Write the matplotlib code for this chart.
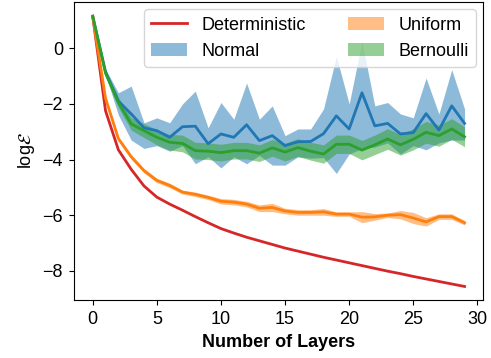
import numpy as np
import matplotlib
matplotlib.use("Agg")
import matplotlib.pyplot as plt

plt.rcParams["font.family"] = ["Liberation Sans", "DejaVu Sans"]
plt.rcParams["mathtext.fontset"] = "stixsans"

layers = list(range(30))

deterministic = [1.15, -2.25, -3.65, -4.35, -4.95, -5.35, -5.6, -5.82, -6.05, -6.27,
                 -6.48, -6.64, -6.79, -6.92, -7.05, -7.18, -7.29, -7.4, -7.51, -7.61,
                 -7.71, -7.81, -7.91, -8.01, -8.1, -8.2, -8.29, -8.38, -8.47, -8.56]

uniform_mean = [1.15, -1.8, -3.25, -3.9, -4.4, -4.75, -4.93, -5.17, -5.25, -5.36,
                -5.5, -5.53, -5.6, -5.75, -5.72, -5.85, -5.9, -5.9, -5.88, -5.96,
                -5.96, -6.07, -6.06, -6.0, -5.98, -6.1, -6.24, -6.05, -6.05, -6.27]
uniform_err = [0.02, 0.08, 0.08, 0.08, 0.08, 0.08, 0.08, 0.07, 0.08, 0.08,
               0.1, 0.1, 0.1, 0.12, 0.15, 0.1, 0.1, 0.1, 0.12, 0.08,
               0.08, 0.2, 0.12, 0.08, 0.15, 0.2, 0.15, 0.1, 0.1, 0.08]

normal_mean = [1.15, -0.85, -1.9, -2.36, -2.86, -2.96, -3.2, -2.82, -2.8, -3.43,
               -3.08, -3.2, -2.75, -3.32, -3.14, -3.5, -3.36, -3.35, -3.07, -2.43,
               -2.9, -1.6, -2.79, -2.7, -3.08, -3.03, -2.35, -2.94, -2.07, -2.7]
normal_hi = [1.15, -0.75, -1.6, -1.36, -2.68, -2.5, -2.68, -2.0, -1.54, -2.86,
             -1.95, -2.55, -1.25, -2.55, -2.07, -3.14, -2.9, -2.9, -2.18, -0.29,
             -2.0, 0.25, -2.07, -1.95, -2.36, -2.5, -1.07, -2.36, -0.77, -2.18]
normal_lo = [1.15, -0.95, -2.4, -3.3, -3.6, -3.5, -3.7, -3.5, -4.15, -3.9,
             -4.3, -3.9, -4.15, -3.85, -4.2, -4.2, -3.9, -3.95, -3.93, -4.5,
             -3.8, -3.6, -3.55, -3.4, -3.8, -3.5, -3.65, -3.4, -3.3, -3.3]

bernoulli_mean = [1.15, -0.9, -1.95, -2.72, -2.96, -3.2, -3.38, -3.42, -3.68, -3.7,
                  -3.75, -3.68, -3.68, -3.77, -3.58, -3.73, -3.57, -3.7, -3.8, -3.45,
                  -3.45, -3.66, -3.47, -3.26, -3.47, -3.27, -3.02, -3.14, -2.9, -3.18]
bernoulli_err = [0.02, 0.12, 0.18, 0.22, 0.25, 0.27, 0.28, 0.3, 0.3, 0.3,
                 0.3, 0.3, 0.3, 0.3, 0.3, 0.32, 0.32, 0.32, 0.33, 0.33,
                 0.33, 0.35, 0.35, 0.37, 0.37, 0.38, 0.39, 0.38, 0.37, 0.36]

x = np.array(layers)
um, ue = np.array(uniform_mean), np.array(uniform_err)
bm, be = np.array(bernoulli_mean), np.array(bernoulli_err)

fig = plt.figure(figsize=(4.91, 3.58), dpi=100)
ax = fig.add_axes([0.151, 0.162, 0.833, 0.832])

ax.plot(x, deterministic, color="tab:red", lw=2, label="Deterministic")
ax.fill_between(x, normal_lo, normal_hi, color="tab:blue", alpha=0.5, lw=0, label="Normal")
ax.plot(x, normal_mean, color="tab:blue", lw=2)
ax.fill_between(x, um - ue, um + ue, color="tab:orange", alpha=0.5, lw=0, label="Uniform")
ax.plot(x, um, color="tab:orange", lw=2)
ax.fill_between(x, bm - be, bm + be, color="tab:green", alpha=0.5, lw=0, label="Bernoulli")
ax.plot(x, bm, color="tab:green", lw=2)

ax.set_xticks([0, 5, 10, 15, 20, 25, 30])
ax.set_yticks([0, -2, -4, -6, -8])
ax.tick_params(labelsize=13, pad=4.5)
ax.set_xlabel("Number of Layers", fontsize=13, fontweight="bold")
ax.set_ylabel(r"log$\mathcal{E}$", fontsize=13)
ax.legend(ncol=2, loc="upper right", fontsize=13, handlelength=2.0,
          columnspacing=2.3, borderaxespad=0.4)

fig.savefig("out.png", dpi=100)
